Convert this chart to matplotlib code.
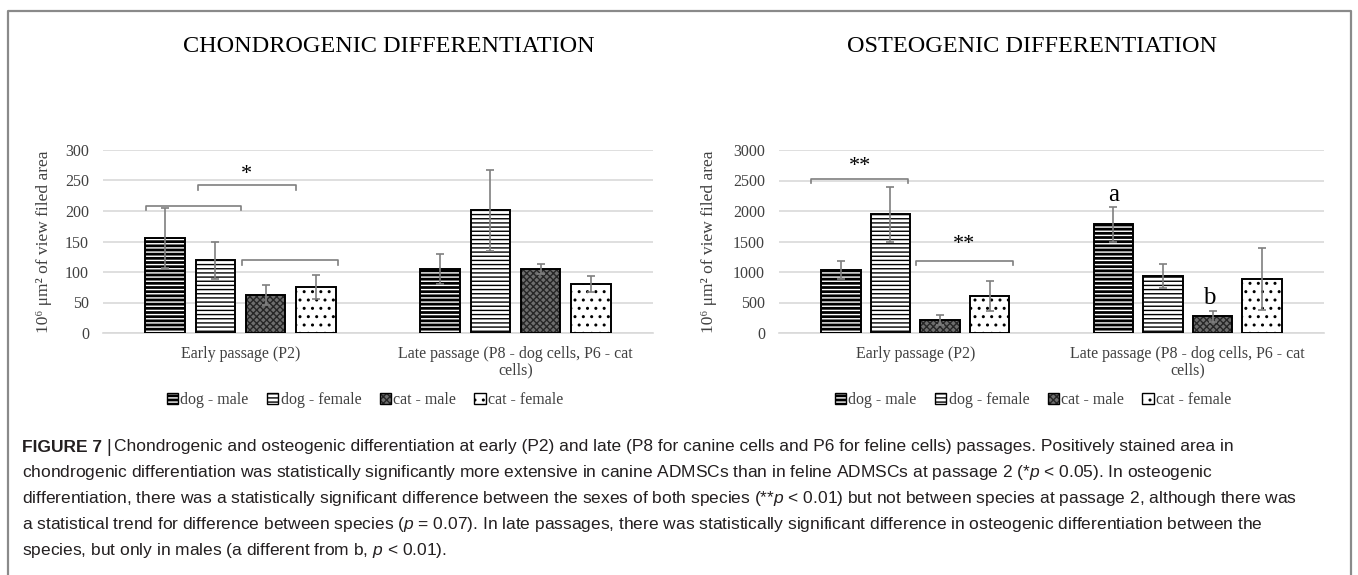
import numpy as np
import matplotlib
matplotlib.use("Agg")
from matplotlib import pyplot as plt
from matplotlib import font_manager
from matplotlib.lines import Line2D

# data
groups = ["Early passage (P2)", "Late passage (P8 - dog cells, P6 - cat\ncells)"]
series = ["dog - male", "dog - female", "cat - male", "cat - female"]

chondro_mean = [[156, 105], [119, 201], [62, 105], [75, 80]]
chondro_err = [[49, 25], [31, 67], [16, 8], [20, 13]]
osteo_mean = [[1037, 1779], [1946, 933], [212, 275], [604, 883]]
osteo_err = [[150, 283], [450, 196], [88, 92], [246, 513]]

chondro_ticks = [0, 50, 100, 150, 200, 250, 300]
osteo_ticks = [0, 500, 1000, 1500, 2000, 2500, 3000]

# significance brackets: (x0, x1, y, label, label_x, label_y)
chondro_brackets = [(-0.345, 0.0, 209, "", 0, 0),
                    (-0.153, 0.20, 242, "*", 0.02, 260),
                    (0.004, 0.353, 119, "", 0, 0)]
osteo_brackets = [(-0.382, -0.026, 2530, "**", -0.204, 2730),
                  (0.004, 0.36, 1187, "**", 0.18, 1450)]
osteo_letters = [("a", 0.727, 2270), ("b", 1.08, 580)]

caption = [
    "Chondrogenic and osteogenic differentiation at early (P2) and late (P8 for canine cells and P6 for feline cells) passages. Positively stained area in",
    "chondrogenic differentiation was statistically significantly more extensive in canine ADMSCs than in feline ADMSCs at passage 2 (*$p$ < 0.05). In osteogenic",
    "differentiation, there was a statistically significant difference between the sexes of both species (**$p$ < 0.01) but not between species at passage 2, although there was",
    "a statistical trend for difference between species ($p$ = 0.07). In late passages, there was statistically significant difference in osteogenic differentiation between the",
    "species, but only in males (a different from b, $p$ < 0.01).",
]


def have(name):
    try:
        font_manager.findfont(name, fallback_to_default=False)
        return True
    except Exception:
        return False


cap_font = "Liberation Sans Narrow" if have("Liberation Sans Narrow") else "Liberation Sans"
serif = ["Liberation Serif", "DejaVu Serif"]

plt.rcParams["mathtext.fontset"] = "custom"
plt.rcParams["mathtext.rm"] = cap_font
plt.rcParams["mathtext.it"] = cap_font + ":italic"
plt.rcParams["mathtext.bf"] = cap_font + ":bold"

W, H = 1358, 575
fig = plt.figure(figsize=(W / 100, H / 100), dpi=100)

offsets = [-0.273, -0.091, 0.091, 0.273]
bw = 0.145
styles = [
    dict(facecolor="black", hatch_color="white", hatch="----"),
    dict(facecolor="white", hatch_color="black", hatch="----"),
    dict(facecolor="#6e6e6e", hatch_color="#262626", hatch="xxxxx"),
    dict(facecolor="white", hatch_color="black", hatch=".."),
]
grey = "#7f7f7f"
text_grey = "#404040"


def draw_chart(left_px, width_px, means, errs, ticks, title, title_x, ylab_x, brackets, leg_x):
    ax = fig.add_axes([left_px / W, 1 - 333 / H, width_px / W, 183 / H])
    x = np.arange(len(groups))
    for i, name in enumerate(series):
        st = styles[i]
        xs = x + offsets[i]
        ax.bar(xs, means[i], bw, color=st["facecolor"], edgecolor=st["hatch_color"],
               hatch=st["hatch"], linewidth=0, zorder=3)
        ax.bar(xs, means[i], bw, facecolor="none", edgecolor="black", linewidth=1.4, zorder=4)
        ax.errorbar(xs, means[i], yerr=errs[i], fmt="none", ecolor=grey, elinewidth=1.2,
                    capsize=3, capthick=1.2, zorder=5)
    ax.set_xlim(-0.5, 1.5)
    ax.set_ylim(ticks[0], ticks[-1])
    ax.set_yticks(ticks)
    ax.set_xticks(x)
    ax.set_xticklabels(groups, fontfamily=serif, fontsize=11.5, color=text_grey,
                       linespacing=1.05)
    for lab in ax.get_yticklabels():
        lab.set_fontfamily(serif)
        lab.set_fontsize(11.5)
        lab.set_color(text_grey)
    ax.tick_params(length=0, pad=10)
    ax.tick_params(axis="x", pad=9)
    ax.grid(axis="y", color="#d9d9d9", linewidth=1.2, zorder=0)
    for s in ["top", "right", "left"]:
        ax.spines[s].set_visible(False)
    ax.spines["bottom"].set_color("#d9d9d9")
    ax.spines["bottom"].set_linewidth(1.2)
    ax.set_ylabel("10⁶ μm² of view filed area", fontfamily=serif, fontsize=12.5,
                  color=text_grey)
    ax.yaxis.set_label_coords((ylab_x - left_px) / width_px, 0.5)

    span = ticks[-1] - ticks[0]
    for x0, x1, y, lab, lx, ly in brackets:
        d = span * 0.025
        ax.plot([x0, x0, x1, x1], [y - d, y, y, y - d], color=grey, linewidth=1.2,
                clip_on=False, zorder=6)
        if lab:
            ax.text(lx, ly, lab, ha="center", va="center", fontfamily=serif,
                    fontsize=16, color="black")

    fig.text(title_x / W, 1 - 47 / H, title, ha="center", va="center",
             fontfamily=serif, fontsize=17.5, color="black")

    # legend: patterned square with a thin black outline
    leg_handles = []
    for st in styles:
        fill = plt.Rectangle((0, 0), 1, 1, facecolor=st["facecolor"],
                             edgecolor=st["hatch_color"], hatch=st["hatch"], linewidth=0)
        outline = plt.Rectangle((0, 0), 1, 1, facecolor="none", edgecolor="black",
                                linewidth=1.0)
        leg_handles.append((fill, outline))
    leg = fig.legend(leg_handles, series, loc="center", bbox_to_anchor=(leg_x / W, 1 - 400 / H),
                     ncol=4, frameon=False, handlelength=0.7, handleheight=0.7,
                     handletextpad=0.15, columnspacing=1.15, borderpad=0,
                     prop={"family": serif, "size": 11.5})
    for t in leg.get_texts():
        t.set_color(text_grey)
    return ax


ax1 = draw_chart(103, 550, chondro_mean, chondro_err, chondro_ticks,
                 "CHONDROGENIC DIFFERENTIATION", 389, 52, chondro_brackets, 365)
ax2 = draw_chart(779, 545, osteo_mean, osteo_err, osteo_ticks,
                 "OSTEOGENIC DIFFERENTIATION", 1032, 717, osteo_brackets, 1033)
for lab, lx, ly in osteo_letters:
    ax2.text(lx, ly, lab, ha="center", va="center", fontfamily=serif, fontsize=18,
             color="black")

# outer frame (open at the bottom)
fc = "#8a8a8a"
fig.add_artist(Line2D([7.5 / W, 7.5 / W, 1350.5 / W, 1350.5 / W],
                      [0, 1 - 10.5 / H, 1 - 10.5 / H, 0], color=fc, linewidth=1.6))

# caption
cap_size = 12.5
cap_col = "#231f20"
head = fig.text(22 / W, 1 - 447 / H, "FIGURE 7", ha="left", va="center",
                fontfamily=cap_font, fontweight="bold", fontsize=cap_size, color=cap_col)
fig.canvas.draw()
r = fig.canvas.get_renderer()
hx = head.get_window_extent(r).x1 + 4
sep = fig.text(hx / W, 1 - 447 / H, "|", ha="left", va="center",
               fontfamily=cap_font, fontsize=cap_size + 1, color=cap_col)
fig.canvas.draw()
hx = sep.get_window_extent(r).x1 + 3
for i, line in enumerate(caption):
    x0 = hx if i == 0 else 22
    fig.text(x0 / W, 1 - (447 + 26 * i) / H, line, ha="left", va="center",
             fontfamily=cap_font, fontsize=cap_size, color=cap_col)

fig.savefig("out.png", dpi=100)
